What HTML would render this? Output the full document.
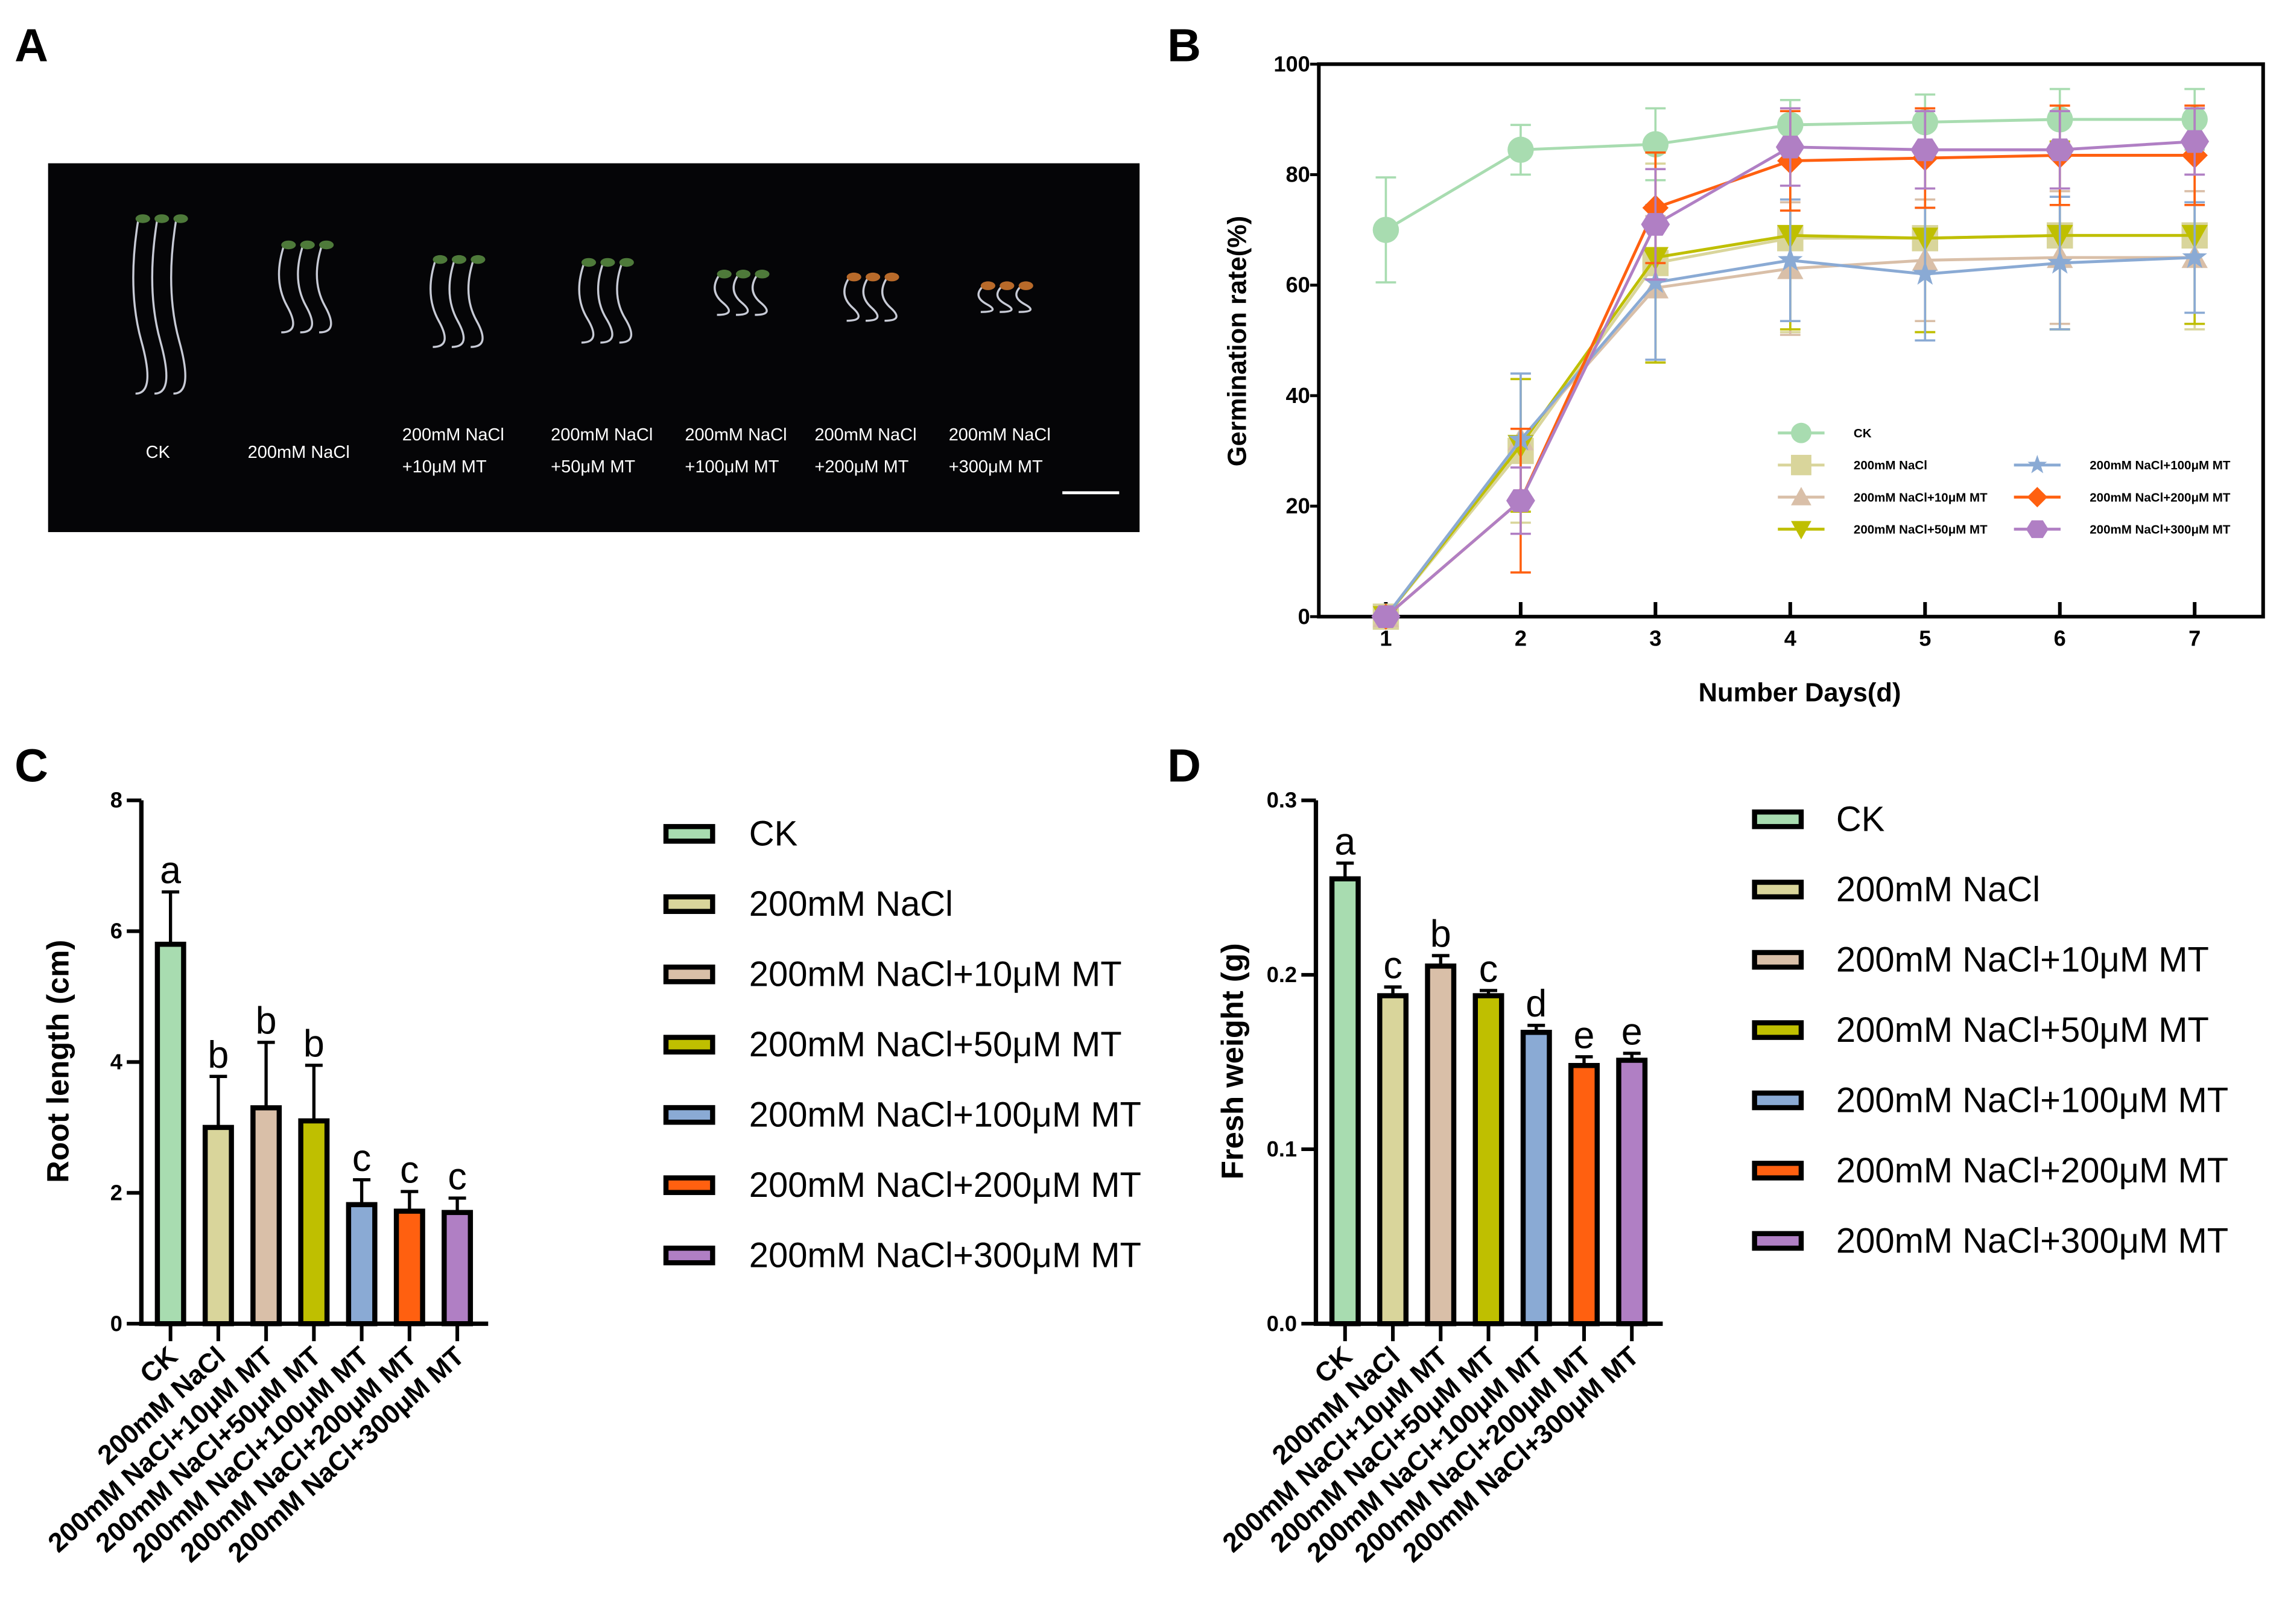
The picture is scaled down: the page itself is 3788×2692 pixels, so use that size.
<!DOCTYPE html>
<html><head><meta charset="utf-8"><style>
html,body{margin:0;padding:0;background:#fff;}
svg{display:block;font-family:"Liberation Sans",Arial,sans-serif;}
</style></head><body>
<svg id="fig" width="3788" height="2692" viewBox="0 0 1568 1114" preserveAspectRatio="none" xmlns="http://www.w3.org/2000/svg">
<g font-size="32" font-weight="bold" fill="#000">
<text x="10" y="42">A</text>
<text x="801" y="42">B</text>
<text x="10" y="536">C</text>
<text x="801" y="536">D</text>
</g>
<g id="panelA">
<rect x="33" y="112" width="749" height="253" fill="#050507"/>
</g>
<g id="panelB"></g>
<g id="panelC"></g>
<g id="panelD"></g>
</svg>
<script>
const NS="http://www.w3.org/2000/svg";
const groups=["CK","200mM NaCl","200mM NaCl+10μM MT","200mM NaCl+50μM MT","200mM NaCl+100μM MT","200mM NaCl+200μM MT","200mM NaCl+300μM MT"];
const colors=["#a8dcb0","#d9d59b","#d9bfa8","#bfbf00","#8aaad4","#ff6010","#b07fc4"];
const days=[1,2,3,4,5,6,7];
const germCK=[70,84.5,85.5,89,89.5,90,90];
const germNaCl=[0,30,64,68.5,68.5,69,69];
const germMT10=[0,32,59.5,63,64.5,65,65];
const germMT50=[0,31,65,69,68.5,69,69];
const germMT100=[0,32,60.5,64.5,62,64,65];
const germMT200=[0,21,74,82.5,83,83.5,83.5];
const germMT300=[0,21,71,85,84.5,84.5,86];
const errCK=[9.5,4.5,6.5,4.5,5,5.5,5.5];
const errNaCl=[0,13,18,17,17,17,17];
const errMT10=[0,12,13,12,11,12,12];
const errMT50=[0,12,19,17,17,17,16];
const errMT100=[0,12,14,11,12,12,10];
const errMT200=[0,13,10,9,9,9,9];
const errMT300=[0,6,10,7,7,7,6];
const germTicks=[0,20,40,60,80,100];
const rootVals=[5.8,3.0,3.3,3.1,1.82,1.72,1.7];
const rootErr=[0.8,0.78,1.0,0.85,0.38,0.3,0.22];
const rootLetters=["a","b","b","b","c","c","c"];
const rootTicks=[0,2,4,6,8];
const fwVals=[0.255,0.188,0.205,0.188,0.167,0.148,0.151];
const fwErr=[0.009,0.005,0.006,0.003,0.004,0.005,0.004];
const fwLetters=["a","c","b","c","d","e","e"];
const fwTicks=["0.0","0.1","0.2","0.3"];

function el(parent,tag,attrs,text){const e=document.createElementNS(NS,tag);for(const k in attrs)e.setAttribute(k,attrs[k]);if(text!==undefined)e.textContent=text;parent.appendChild(e);return e;}

(function(){
 const A=document.getElementById('panelA');
 const cx=[108,208,312,414,507,596,688];
 const top=[150,168,178,180,188,190,196];
 const len=[120,60,60,55,28,30,18];
 cx.forEach((x,i)=>{
  for(let k=-1;k<=1;k++){
   const sx=x+k*13;
   const p=el(A,'path',{d:`M${sx} ${top[i]} q-8 ${len[i]*0.4} 2 ${len[i]*0.7} t-4 ${len[i]*0.3}`,stroke:'#c8cbd6',"stroke-width":1.4,fill:'none'});
   
   
   const c=el(A,'ellipse',{cx:sx+3,cy:top[i],rx:5,ry:3,fill:i>4?'#b86a2a':'#4e7a3a'});
   
   
  }
 });
 const l1=["","","200mM NaCl","200mM NaCl","200mM NaCl","200mM NaCl","200mM NaCl"];
 const l2=["","","+10μM MT","+50μM MT","+100μM MT","+200μM MT","+300μM MT"];
 const lx=[100,170,276,378,470,559,651];
 lx.forEach((x,i)=>{
  if(i<2){const t=el(A,'text',{x:x,y:314,fill:'#fff','font-size':12},groups[i]);}
  else{const t=el(A,'text',{x:x,y:302,fill:'#fff','font-size':12},l1[i]);
   const t2=el(A,'text',{x:x,y:324,fill:'#fff','font-size':12},l2[i]);}
 });
 const sb=el(A,'line',{x1:729,x2:768,y1:338,y2:338,stroke:'#fff','stroke-width':2});
 
 
})();

(function(){
 const B=document.getElementById('panelB');
 const X0=905,X1=1553,Y0=423,Y1=44;
 const xs=d=>951+(d-1)*(1506-951)/6;
 const ys=v=>Y0-(v/100)*(Y0-Y1);
 const fr=el(B,'rect',{x:X0,y:Y1,width:X1-X0,height:Y0-Y1,fill:'none',stroke:'#000','stroke-width':2.5});
 
 
 germTicks.forEach(v=>{
  const t=el(B,'line',{x1:X0-6,x2:X0,y1:ys(v),y2:ys(v),stroke:'#000','stroke-width':2});
  
  const l=el(B,'text',{x:X0-6,y:ys(v)+5,'text-anchor':'end','font-size':15,'font-weight':'bold'},String(v));
  
 });
 days.forEach(d=>{
  const t=el(B,'line',{x1:xs(d),x2:xs(d),y1:Y0-10,y2:Y0,stroke:'#000','stroke-width':2.5});
  
  const l=el(B,'text',{x:xs(d),y:Y0+20,'text-anchor':'middle','font-size':15,'font-weight':'bold'},String(d));
  
 });
 const yt=el(B,'text',{x:0,y:0,transform:`translate(855,234) rotate(-90)`,'text-anchor':'middle','font-size':18,'font-weight':'bold'},'Germination rate(%)');
 
 const xt=el(B,'text',{x:1235,y:481,'text-anchor':'middle','font-size':18,'font-weight':'bold'},'Number Days(d)');
 
 const series=[germCK,germNaCl,germMT10,germMT50,germMT100,germMT200,germMT300];
 const errs=[errCK,errNaCl,errMT10,errMT50,errMT100,errMT200,errMT300];
 const shapes=['circle','square','tri','tridown','star','diamond','hex'];
 function marker(g,s,x,y,c,r){
  let e;
  if(s==='circle')e=el(g,'circle',{cx:x,cy:y,r:r,fill:c});
  else if(s==='square')e=el(g,'rect',{x:x-r,y:y-r,width:2*r,height:2*r,fill:c});
  else if(s==='tri')e=el(g,'polygon',{points:`${x},${y-r} ${x+r},${y+r*0.8} ${x-r},${y+r*0.8}`,fill:c});
  else if(s==='tridown')e=el(g,'polygon',{points:`${x},${y+r} ${x+r},${y-r*0.8} ${x-r},${y-r*0.8}`,fill:c});
  else if(s==='diamond')e=el(g,'polygon',{points:`${x},${y-r} ${x+r},${y} ${x},${y+r} ${x-r},${y}`,fill:c});
  else if(s==='hex'){let p=[];for(let k=0;k<6;k++){const a=Math.PI/3*k;p.push((x+r*1.1*Math.cos(a))+','+(y+r*Math.sin(a)));}e=el(g,'polygon',{points:p.join(' '),fill:c});}
  else{let p=[];for(let k=0;k<10;k++){const a=-Math.PI/2+Math.PI/5*k;const rr=k%2?r*0.4:r;p.push((x+rr*Math.cos(a))+','+(y+rr*Math.sin(a)));}e=el(g,'polygon',{points:p.join(' '),fill:c});}
  return e;
 }
 series.forEach((ser,si)=>{
  const g=el(B,'g',{});
  
  
  const c=colors[si];
  ser.forEach((v,i)=>{const e=errs[si][i];if(e>0){
   const ln=el(g,'path',{d:`M${xs(days[i])} ${ys(v-e)}V${ys(v+e)}M${xs(days[i])-7} ${ys(v-e)}h14M${xs(days[i])-7} ${ys(v+e)}h14`,stroke:c,'stroke-width':1.5,fill:'none'});
   }});
  const pl=el(g,'polyline',{points:ser.map((v,i)=>xs(days[i])+','+ys(v)).join(' '),fill:'none',stroke:c,'stroke-width':2});
  
  ser.forEach((v,i)=>{const m=marker(g,shapes[si],xs(days[i]),ys(v),c,9);});
 });
 const pos=[[1236,297],[1236,319],[1236,341],[1236,363],[1398,319],[1398,341],[1398,363]];
 pos.forEach((p,i)=>{
  const g=el(B,'g',{});
  
  
  el(g,'line',{x1:p[0]-16,x2:p[0]+16,y1:p[1],y2:p[1],stroke:colors[i],'stroke-width':2});
  marker(g,shapes[i],p[0],p[1],colors[i],7);
  el(g,'text',{x:p[0]+36,y:p[1]+3,'font-size':8.5,'font-weight':'bold'},groups[i]);
 });
})();

function barChart(id,vals,errs,letters,ticks,maxV,axisX,title){
 const G=document.getElementById(id);
 const Y0=908,Y1=549;
 const ys=v=>Y0-(v/maxV)*(Y0-Y1);
 const xs=i=>axisX+20+i*32.8;
 vals.forEach((v,i)=>{
  const e=el(G,'path',{d:`M${xs(i)} ${ys(v)}V${ys(v+errs[i])}M${xs(i)-6} ${ys(v+errs[i])}h12`,stroke:'#000','stroke-width':2.2,fill:'none'});
  
  const r=el(G,'rect',{x:xs(i)-9,y:ys(v),width:18,height:Y0-ys(v),fill:colors[i],stroke:'#000','stroke-width':3.5});
  
  const l=el(G,'text',{x:xs(i),y:ys(v+errs[i])-6,'text-anchor':'middle','font-size':26},letters[i]);
  
  const tk=el(G,'line',{x1:xs(i),x2:xs(i),y1:Y0,y2:Y0+12,stroke:'#000','stroke-width':2.5});
  
  const tl=el(G,'text',{x:0,y:0,transform:`translate(${xs(i)+6},${Y0+24}) rotate(-42)`,'text-anchor':'end','font-size':18.5,'font-weight':'bold'},groups[i]);
  
 });
 const ax=el(G,'path',{d:`M${axisX} ${Y1}V${Y0}H${axisX+238}`,stroke:'#000','stroke-width':3,fill:'none'});
 
 ticks.forEach(t=>{
  const y=ys(parseFloat(t));
  const tk=el(G,'line',{x1:axisX-10,x2:axisX,y1:y,y2:y,stroke:'#000','stroke-width':2.5});
  
  const tl=el(G,'text',{x:axisX-13,y:y+5,'text-anchor':'end','font-size':15,'font-weight':'bold'},String(t));
  
 });
 const yt=el(G,'text',{x:0,y:0,transform:`translate(${axisX-50},728) rotate(-90)`,'text-anchor':'middle','font-size':21,'font-weight':'bold'},title);
 
}
barChart('panelC',rootVals,rootErr,rootLetters,rootTicks,8,97,'Root length (cm)');
barChart('panelD',fwVals,fwErr,fwLetters,fwTicks,0.3,903,'Fresh weight (g)');

function legend(id,sx,tx,y0){
 const G=document.getElementById(id);
 groups.forEach((g,i)=>{
  const y=y0+i*48.2;
  const e=el(G,'g',{});
  
  
  el(e,'rect',{x:sx,y:y-5,width:32,height:10,fill:colors[i],stroke:'#000','stroke-width':3.5});
  el(e,'text',{x:tx,y:y+8,'font-size':24},g);
 });
}
legend('panelC',457,514,572);
legend('panelD',1204,1260,562);
</script>
</body></html>
